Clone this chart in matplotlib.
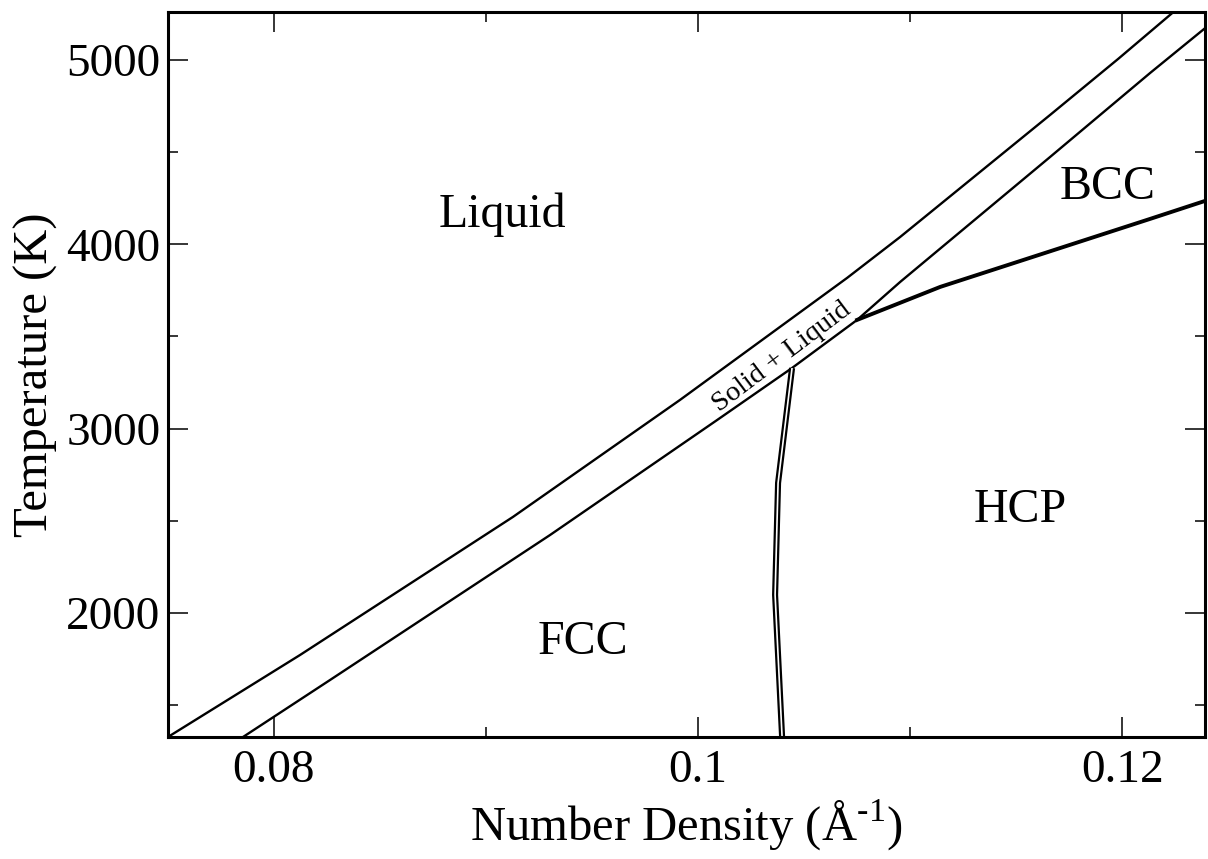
import numpy as np
import matplotlib.pyplot as plt
from matplotlib.ticker import MultipleLocator, FixedLocator

plt.rcParams['font.family'] = ['Liberation Serif', 'DejaVu Serif']
plt.rcParams['mathtext.fontset'] = 'custom'
plt.rcParams['mathtext.rm'] = 'Liberation Serif'

# 상경계 (Liquid / Solid+Liquid)
liq_x = [0.0750, 0.08123, 0.09127, 0.09915, 0.10703, 0.10953, 0.11660, 0.11981, 0.12231]
liq_T = [1327, 1772, 2521, 3156, 3818, 4040, 4702, 5006, 5250]

# 하경계 (Solid+Liquid / Solid)
sol_x = [0.07854, 0.08264, 0.09302, 0.10090, 0.10443, 0.1075, 0.10953, 0.11660, 0.12132, 0.12392]
sol_T = [1327, 1636, 2423, 3047, 3329, 3590, 3796, 4474, 4930, 5174]

# BCC / HCP 경계
bcc_x = [0.1075, 0.11142, 0.12132, 0.12392]
bcc_T = [3590, 3769, 4138, 4236]

# FCC / HCP 경계 (이중선)
fcc_x = [0.10443, 0.10377, 0.10363, 0.10396]
fcc_T = [3329, 2705, 2098, 1327]

fig = plt.figure(figsize=(12.08, 8.59), dpi=100)
ax = fig.add_axes([0.139, 0.142, 0.8585, 0.844])

ax.plot(liq_x, liq_T, color='black', lw=1.7)
ax.plot(sol_x, sol_T, color='black', lw=1.7)
ax.plot(bcc_x, bcc_T, color='black', lw=2.8)
ax.plot(fcc_x, fcc_T, color='black', lw=4.4, solid_capstyle='butt')
ax.plot(fcc_x, fcc_T, color='white', lw=1.2, solid_capstyle='butt')

fs = 34.5
ax.text(0.09075, 4160, 'Liquid', fontsize=fs, ha='center', va='center')
ax.text(0.11929, 4311, 'BCC', fontsize=fs, ha='center', va='center')
ax.text(0.11519, 2559, 'HCP', fontsize=fs, ha='center', va='center')
ax.text(0.09458, 1843, 'FCC', fontsize=fs, ha='center', va='center')
ax.text(0.10396, 3389, 'Solid + Liquid', fontsize=20.5, ha='center', va='center',
        rotation=37, rotation_mode='anchor')

ax.set_xlim(0.075, 0.1239)
ax.set_ylim(1327, 5260)

ax.xaxis.set_major_locator(FixedLocator([0.08, 0.1, 0.12]))
ax.set_xticklabels(['0.08', '0.1', '0.12'])
ax.xaxis.set_minor_locator(FixedLocator([0.09, 0.11]))
ax.yaxis.set_major_locator(MultipleLocator(1000))
ax.yaxis.set_minor_locator(MultipleLocator(500))

ax.tick_params(which='both', direction='in', top=True, right=True, width=1.1,
               labelsize=34)
ax.tick_params(axis='y', which='major', length=14.5, pad=5.5)
ax.tick_params(axis='x', which='major', length=14.5, pad=9)
ax.tick_params(which='minor', length=7.5)
for s in ax.spines.values():
    s.set_linewidth(2.2)

ax.set_xlabel(r'Number Density (Å$^{\text{-1}}$)', fontsize=35, labelpad=4)
ax.set_ylabel('Temperature (K)', fontsize=35, labelpad=6)

plt.savefig('out.png', dpi=100)
